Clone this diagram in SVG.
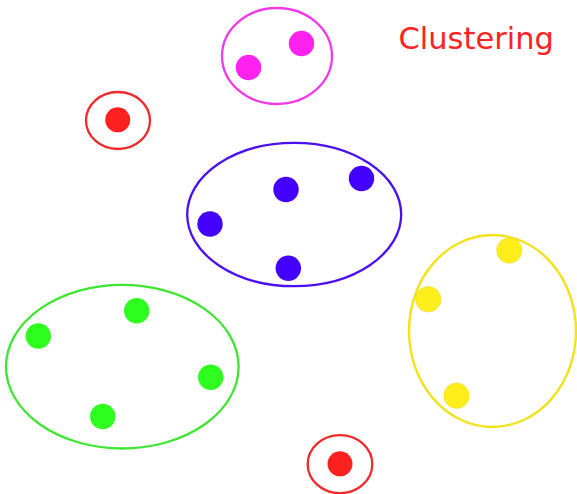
<svg xmlns="http://www.w3.org/2000/svg" width="577" height="494" viewBox="0 0 577 494">
  <style>
    .ring { fill: none; stroke-width: 2.3; }
    .dot { stroke: none; }
    .red .ring { stroke: #ee2a2a; }
    .red .dot { fill: #ff2020; }
    .magenta .ring { stroke: #f03ae8; }
    .magenta .dot { fill: #ff22ee; }
    .blue .ring { stroke: #4a10ee; }
    .blue .dot { fill: #4400ff; }
    .green .ring { stroke: #3ee632; }
    .green .dot { fill: #2eff1e; }
    .yellow .ring { stroke: #f2e21c; stroke-width: 2.4; }
    .yellow .dot { fill: #ffee1a; stroke: #eadc40; stroke-width: 0.6; }
    .title { font-family: "DejaVu Sans", sans-serif; font-size: 30.5px; fill: #ff2222; }
  </style>
  <rect width="577" height="494" fill="#ffffff"/>

  <text class="title" x="398.5" y="48.5">Clustering</text>

  <g id="cluster-magenta" class="magenta">
    <ellipse class="ring" cx="277" cy="56" rx="55" ry="48"/>
    <circle class="dot" cx="301.5" cy="43.5" r="12.7"/>
    <circle class="dot" cx="248.5" cy="67.5" r="12.7"/>
  </g>

  <g id="outlier-top" class="red">
    <ellipse class="ring" cx="118" cy="120.5" rx="32" ry="28.5"/>
    <circle class="dot" cx="117.7" cy="119.8" r="12.5"/>
  </g>

  <g id="cluster-blue" class="blue">
    <ellipse class="ring" cx="294.2" cy="214.5" rx="107" ry="71.7"/>
    <circle class="dot" cx="286" cy="189.5" r="12.7"/>
    <circle class="dot" cx="361.5" cy="178.5" r="12.7"/>
    <circle class="dot" cx="210" cy="224" r="12.7"/>
    <circle class="dot" cx="288.3" cy="268.3" r="12.7"/>
  </g>

  <g id="cluster-yellow" class="yellow">
    <ellipse class="ring" cx="492.5" cy="331" rx="83.5" ry="96"/>
    <circle class="dot" cx="509.3" cy="250.5" r="12.7"/>
    <circle class="dot" cx="428.3" cy="299.3" r="12.7"/>
    <circle class="dot" cx="456.5" cy="395.7" r="12.7"/>
  </g>

  <g id="cluster-green" class="green">
    <ellipse class="ring" cx="122.3" cy="366.7" rx="116.3" ry="81.8"/>
    <circle class="dot" cx="136.7" cy="310.8" r="12.7"/>
    <circle class="dot" cx="38.3" cy="336" r="12.7"/>
    <circle class="dot" cx="210.7" cy="377.3" r="12.7"/>
    <circle class="dot" cx="102.7" cy="416.5" r="12.7"/>
  </g>

  <g id="outlier-bottom" class="red">
    <ellipse class="ring" cx="340" cy="464.2" rx="32.3" ry="29"/>
    <circle class="dot" cx="340" cy="463.8" r="12.5"/>
  </g>

  <g id="connectors"/>
</svg>
